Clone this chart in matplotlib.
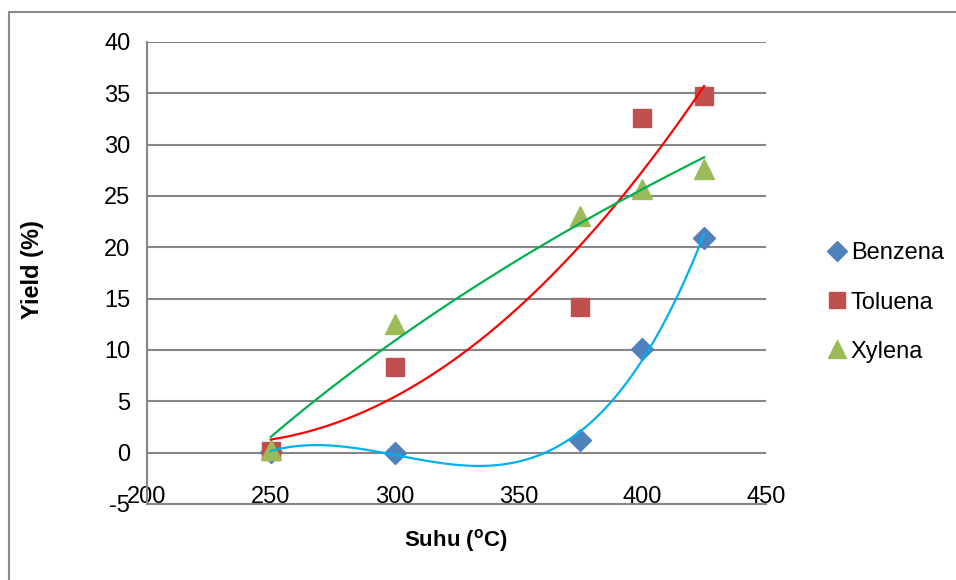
import numpy as np
import matplotlib
matplotlib.use("Agg")
import matplotlib.pyplot as plt
from matplotlib.patches import Rectangle
from matplotlib.lines import Line2D

plt.rcParams['font.family'] = ['Liberation Sans', 'DejaVu Sans']
plt.rcParams['mathtext.default'] = 'regular'
plt.rcParams['axes.unicode_minus'] = False

suhu = [250, 300, 375, 400, 425]
benzena = [0.1, 0.0, 1.2, 10.1, 20.9]
toluena = [0.2, 8.3, 14.2, 32.6, 34.7]
xylena = [0.3, 12.5, 23.1, 25.7, 27.6]
series_names = ["Benzena", "Toluena", "Xylena"]
x_ticks = [200, 250, 300, 350, 400, 450]
y_ticks = [-5, 0, 5, 10, 15, 20, 25, 30, 35, 40]

W, H = 956, 580
fig = plt.figure(figsize=(W / 100, H / 100), dpi=100)

# outer chart border
fig.patches.append(Rectangle((9 / W, -0.1), 1.2, 1 - 12 / H + 0.1, transform=fig.transFigure,
                             fill=False, edgecolor='#8c8c8c', linewidth=1.5))

x0, x1 = 147, 766
y0, y1 = 42, 504
ax = fig.add_axes([x0 / W, 1 - y1 / H, (x1 - x0) / W, (y1 - y0) / H])
ax.set_xlim(200, 450)
ax.set_ylim(-5, 40)

for s in ['top', 'right']:
    ax.spines[s].set_visible(False)
for s in ['left', 'bottom']:
    ax.spines[s].set_color('#868686')
    ax.spines[s].set_linewidth(1.5)
ax.set_yticks(y_ticks)
ax.set_xticks(x_ticks)
ax.yaxis.grid(True, color='#868686', linewidth=1.5)
ax.set_axisbelow(True)
ax.tick_params(axis='both', length=0, labelsize=17, colors='black')
ax.tick_params(axis='y', pad=12)
ax.tick_params(axis='x', pad=-13)

colors_m = ['#4F81BD', '#C0504D', '#9BBB59']
colors_l = ['#00B0F0', '#FF0000', '#00B050']
markers = ['D', 's', '^']
sizes = [11, 13, 15]
fits = ['poly3', 'poly2', 'log']
xs = np.linspace(min(suhu), max(suhu), 200)
handles = []
for data, cm, cl, mk, ms, ft, nm in zip([benzena, toluena, xylena], colors_m, colors_l,
                                         markers, sizes, fits, series_names):
    ax.plot(suhu, data, linestyle='none', marker=mk, markersize=ms, color=cm, zorder=3)
    if ft == 'log':
        coef = np.polyfit(np.log(suhu), data, 1)
        ys = np.polyval(coef, np.log(xs))
    else:
        coef = np.polyfit(suhu, data, int(ft[-1]))
        ys = np.polyval(coef, xs)
    ax.plot(xs, ys, color=cl, linewidth=1.6, zorder=4)
    handles.append(Line2D([], [], linestyle='none', marker=mk, markersize=ms * 0.9, color=cm, label=nm))

ax.set_xlabel('Suhu ($^{o}$C)', fontsize=16, fontweight='bold')
ax.set_ylabel('Yield (%)', fontsize=17, fontweight='bold')
ax.xaxis.set_label_coords((456 - x0) / (x1 - x0), (y1 - 540) / (y1 - y0))
ax.yaxis.set_label_coords((33 - x0) / (x1 - x0), (y1 - 270) / (y1 - y0))
ax.xaxis.label.set_va('center')
ax.yaxis.label.set_va('center')

fig.legend(handles=handles, loc='upper left', bbox_to_anchor=(813 / W, 1 - 233 / H),
           frameon=False, fontsize=17, handletextpad=0.0, labelspacing=1.15,
           handlelength=1.2, borderaxespad=0)

fig.savefig('out.png', dpi=100)
